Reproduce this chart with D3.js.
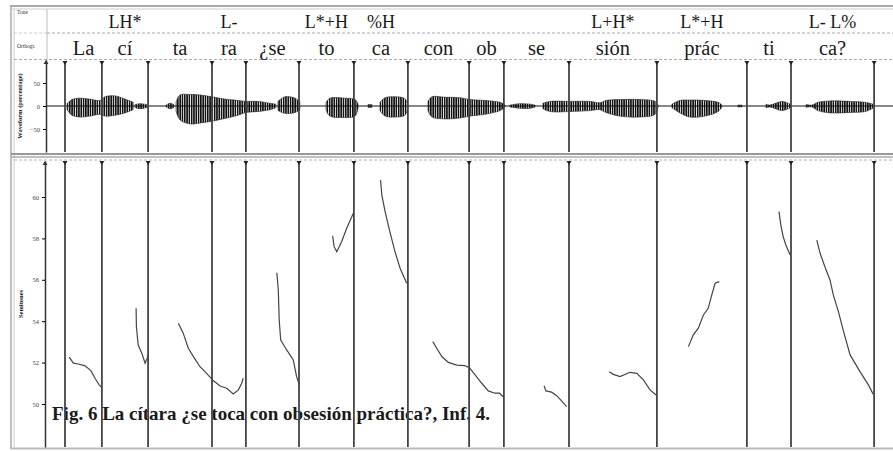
<!DOCTYPE html>
<html>
<head>
<meta charset="utf-8">
<script src="https://cdn.jsdelivr.net/npm/d3@7"></script>
<style>
body { margin: 0; background: #fff; }
svg { display: block; }
</style>
</head>
<body>
<svg id="chart" width="893" height="451"></svg>
<script>
// syllable tier + tone tier (one entry per interval)
var syllables = ['La', 'cí', 'ta', 'ra', '¿se', 'to', 'ca', 'con', 'ob', 'se', 'sión', 'prác', 'ti', 'ca?'];
var tones = ['', 'LH*', '', 'L-', '', 'L*+H', '%H', '', '', '', 'L+H*', 'L*+H', '', 'L- L%'];
// interval boundaries, seconds
var boundaries = [0.060, 0.183, 0.337, 0.550, 0.663, 0.840, 1.023, 1.203, 1.407, 1.523, 1.740, 2.033, 2.333, 2.480, 2.757];

var pitchTicks = [50, 52, 54, 56, 58, 60];
var waveTicks = [50, 0, -50];

// pitch contours: [time (s), semitones]
var pitchLa = [[0.074, 52.26], [0.088, 51.97], [0.104, 51.93], [0.127, 51.84], [0.146, 51.61], [0.160, 51.24], [0.174, 50.92], [0.183, 50.79]];
var pitchCi = [[0.297, 54.62], [0.298, 53.73], [0.304, 52.85], [0.316, 52.45], [0.327, 51.97], [0.334, 52.21], [0.338, 52.37]];
var pitchTaRa = [[0.438, 53.90], [0.454, 53.42], [0.471, 52.69], [0.488, 52.29], [0.510, 51.80], [0.532, 51.48], [0.554, 51.13], [0.577, 50.87], [0.599, 50.76], [0.621, 50.48], [0.638, 50.68], [0.649, 51.00], [0.654, 51.24]];
var pitchSe = [[0.766, 56.34], [0.771, 55.51], [0.774, 54.06], [0.779, 53.09], [0.799, 52.61], [0.821, 52.13], [0.832, 51.32], [0.841, 50.92]];
var pitchTo = [[0.952, 58.13], [0.957, 57.60], [0.966, 57.36], [0.982, 57.84], [0.999, 58.49], [1.016, 59.05], [1.021, 59.21]];
var pitchCa = [[1.112, 60.82], [1.116, 60.10], [1.127, 59.29], [1.143, 58.32], [1.160, 57.36], [1.177, 56.56], [1.199, 55.83]];
var pitchConOb = [[1.286, 53.01], [1.299, 52.69], [1.316, 52.29], [1.338, 52.01], [1.366, 51.88], [1.393, 51.85], [1.408, 51.75], [1.427, 51.40], [1.449, 51.00], [1.471, 50.63], [1.493, 50.52], [1.508, 50.52], [1.521, 50.35]];
var pitchSe2 = [[1.657, 50.88], [1.663, 50.63], [1.682, 50.57], [1.699, 50.40], [1.716, 50.14], [1.732, 49.87]];
var pitchSion = [[1.874, 51.56], [1.888, 51.43], [1.910, 51.32], [1.943, 51.53], [1.966, 51.48], [1.988, 51.16], [2.010, 50.68], [2.030, 50.43]];
var pitchPrac = [[2.138, 52.77], [2.154, 53.33], [2.171, 53.66], [2.188, 54.30], [2.204, 54.62], [2.216, 55.27], [2.227, 55.83], [2.241, 55.91]];
var pitchTi = [[2.440, 59.29], [2.446, 58.65], [2.454, 58.08], [2.463, 57.68], [2.477, 57.20]];
var pitchCa2 = [[2.566, 57.92], [2.577, 57.28], [2.593, 56.63], [2.610, 55.99], [2.621, 55.27], [2.638, 54.46], [2.654, 53.57], [2.677, 52.37], [2.710, 51.56], [2.738, 50.92], [2.754, 50.47]];

// waveform envelope chunks: [time (s), top %, bottom %]
var waveLaCi = [[0.067, 5, -8], [0.083, 14, -20], [0.110, 17, -24], [0.143, 15, -22], [0.177, 12, -18], [0.193, 20, -22], [0.227, 22, -20], [0.260, 15, -15], [0.287, 8, -8]];
var waveCiTail = [[0.293, 3, -3], [0.310, 5, -6], [0.333, 3, -3]];
var waveTaOnset = [[0.397, 2, -2], [0.410, 6, -6], [0.423, 3, -3]];
var waveTaRa = [[0.430, 8, -10], [0.443, 24, -30], [0.477, 25, -39], [0.510, 24, -37], [0.550, 20, -33], [0.593, 15, -27], [0.637, 12, -20], [0.663, 10, -14], [0.703, 10, -12], [0.743, 6, -8], [0.763, 4, -4]];
var waveSe = [[0.770, 10, -10], [0.793, 20, -16], [0.827, 17, -14], [0.843, 8, -8]];
var waveTo = [[0.930, 8, -8], [0.943, 17, -22], [0.993, 17, -25], [1.027, 14, -22], [1.037, 4, -4]];
var waveDot = [[1.070, 3, -3], [1.083, 3, -3]];
var waveCa = [[1.110, 8, -10], [1.127, 18, -22], [1.160, 20, -24], [1.193, 16, -20], [1.203, 3, -3]];
var waveConOb = [[1.270, 10, -10], [1.283, 20, -24], [1.327, 19, -28], [1.377, 18, -26], [1.410, 14, -22], [1.460, 12, -18], [1.510, 8, -10], [1.527, 2, -2]];
var waveSeOnset = [[1.543, 2, -2], [1.577, 5, -5], [1.610, 4, -5], [1.627, 2, -2]];
var waveSeSion = [[1.653, 6, -6], [1.677, 10, -12], [1.743, 10, -12], [1.810, 10, -10], [1.843, 7, -8], [1.863, 12, -14], [1.910, 14, -22], [1.977, 14, -24], [2.027, 10, -18], [2.037, 2, -2]];
var wavePrac = [[2.083, 4, -4], [2.110, 12, -15], [2.143, 13, -24], [2.193, 12, -22], [2.237, 8, -12], [2.250, 2, -2]];
var waveTiOnset = [[2.303, 2, -2], [2.317, 2, -2]];
var waveTi = [[2.397, 4, -4], [2.410, 2, -2], [2.437, 8, -8], [2.453, 10, -10], [2.477, 4, -4]];
var waveCa2 = [[2.530, 3, -3], [2.550, 2, -2], [2.570, 8, -10], [2.610, 11, -15], [2.677, 10, -14], [2.727, 8, -12], [2.753, 4, -5]];

var caption = 'Fig. 6 La cítara ¿se toca con obsesión práctica?, Inf. 4.';

var contours = [pitchLa, pitchCi, pitchTaRa, pitchSe, pitchTo, pitchCa, pitchConOb, pitchSe2, pitchSion, pitchPrac, pitchTi, pitchCa2];
var waveChunks = [waveLaCi, waveCiTail, waveTaOnset, waveTaRa, waveSe, waveTo, waveDot, waveCa, waveConOb, waveSeOnset, waveSeSion, wavePrac, waveTiOnset, waveTi, waveCa2];

var svg = d3.select('#chart');
var serif = '"Liberation Serif", "DejaVu Serif", serif';

var x = d3.scaleLinear().domain([0, 2.82]).range([47, 893]);
var yWave = d3.scaleLinear().domain([-100, 100]).range([152, 60]);
var yPitch = d3.scaleLinear().domain([47.92, 61.74]).range([447, 161]);

// stripes so the waveform looks like dense oscillation
var defs = svg.append('defs');
defs.append('pattern')
    .attr('id', 'osc')
    .attr('patternUnits', 'userSpaceOnUse')
    .attr('width', 2.3).attr('height', 10)
    .append('rect')
    .attr('width', 1.6).attr('height', 10)
    .attr('fill', '#111');

//frame
var frame = svg.append('g').attr('fill', 'none');
frame.append('line').attr('x1', 10).attr('x2', 893).attr('y1', 6).attr('y2', 6).attr('stroke', '#aaa').attr('stroke-width', 2);
frame.append('line').attr('x1', 10).attr('x2', 893).attr('y1', 9).attr('y2', 9).attr('stroke', '#ccc');
frame.append('line').attr('x1', 11).attr('x2', 11).attr('y1', 6).attr('y2', 449).attr('stroke', '#aaa').attr('stroke-width', 1.5);
frame.append('line').attr('x1', 14).attr('x2', 14).attr('y1', 9).attr('y2', 449).attr('stroke', '#ccc');
frame.append('line').attr('x1', 47).attr('x2', 47).attr('y1', 9).attr('y2', 60).attr('stroke', '#bbb');
frame.append('line').attr('x1', 47).attr('x2', 893).attr('y1', 33).attr('y2', 33).attr('stroke', '#aaa').attr('stroke-dasharray', '3,2');
frame.append('line').attr('x1', 14).attr('x2', 47).attr('y1', 33).attr('y2', 33).attr('stroke', '#ccc').attr('stroke-dasharray', '3,2');
frame.append('line').attr('x1', 14).attr('x2', 893).attr('y1', 59.5).attr('y2', 59.5).attr('stroke', '#aaa').attr('stroke-dasharray', '3,2');
frame.append('line').attr('x1', 11).attr('x2', 893).attr('y1', 154).attr('y2', 154).attr('stroke', '#999').attr('stroke-width', 2);
frame.append('line').attr('x1', 11).attr('x2', 893).attr('y1', 157).attr('y2', 157).attr('stroke', '#aaa').attr('stroke-width', 1.5);
frame.append('line').attr('x1', 14).attr('x2', 893).attr('y1', 160).attr('y2', 160).attr('stroke', '#caa').attr('stroke-dasharray', '3,2');
frame.append('line').attr('x1', 11).attr('x2', 893).attr('y1', 448.5).attr('y2', 448.5).attr('stroke', '#bbb').attr('stroke-width', 2);

// tier names
svg.append('text').attr('x', 17).attr('y', 14).attr('font-family', serif).attr('font-size', 5.5).attr('fill', '#333').text('Tone');
svg.append('text').attr('x', 17).attr('y', 48).attr('font-family', serif).attr('font-size', 5.5).attr('fill', '#333').text('Orthogr.');

var intervals = syllables.map(function(s, i) {
    return {syl: s, tone: tones[i], mid: (boundaries[i] + boundaries[i + 1]) / 2};
});

svg.append('g').selectAll('text')
    .data(intervals.filter(function(d) { return d.tone !== ''; }))
    .enter().append('text')
    .attr('x', function(d) { return x(d.mid); })
    .attr('y', 28)
    .attr('text-anchor', 'middle')
    .attr('font-family', serif)
    .attr('font-size', 18)
    .attr('fill', '#1a1a1a')
    .text(function(d) { return d.tone; });

svg.append('g').selectAll('text')
    .data(intervals)
    .enter().append('text')
    .attr('x', function(d) { return x(d.mid); })
    .attr('y', 55)
    .attr('text-anchor', 'middle')
    .attr('font-family', serif)
    .attr('font-size', 20.5)
    .attr('fill', '#1a1a1a')
    .text(function(d) { return d.syl; });

// waveform panel
svg.append('line')
    .attr('x1', 47).attr('x2', 893)
    .attr('y1', yWave(0)).attr('y2', yWave(0))
    .attr('stroke', '#111').attr('stroke-width', 1.2);

var waveArea = d3.area()
    .x(function(d) { return x(d[0]); })
    .y0(function(d) { return yWave(d[2]); })
    .y1(function(d) { return yWave(d[1]); })
    .curve(d3.curveCatmullRom);

svg.append('g').selectAll('path')
    .data(waveChunks)
    .enter().append('path')
    .attr('d', waveArea)
    .attr('fill', 'url(#osc)')
    .attr('stroke', '#222')
    .attr('stroke-width', 0.6);

var waveAxis = svg.append('g')
    .attr('transform', 'translate(46,0)')
    .call(d3.axisLeft(yWave).tickValues(waveTicks).tickSize(3).tickSizeOuter(0));
waveAxis.select('.domain').attr('stroke', '#333').attr('stroke-width', 1.5);
waveAxis.selectAll('text').attr('font-size', 6.5).attr('font-family', serif).attr('fill', '#444');

svg.append('text')
    .attr('transform', 'translate(22,' + yWave(0) + ') rotate(-90)')
    .attr('text-anchor', 'middle')
    .attr('font-family', serif).attr('font-weight', 'bold')
    .attr('font-size', 6.5).attr('fill', '#222')
    .text('Waveform (percentage)');

// pitch panel
var pitchAxis = svg.append('g')
    .attr('transform', 'translate(45,0)')
    .call(d3.axisLeft(yPitch).tickValues(pitchTicks).tickSize(3).tickSizeOuter(0));
pitchAxis.select('.domain').attr('stroke', '#333').attr('stroke-width', 1.5);
pitchAxis.selectAll('text').attr('font-size', 6.5).attr('font-family', serif).attr('fill', '#444');

svg.append('text')
    .attr('transform', 'translate(23,304) rotate(-90)')
    .attr('text-anchor', 'middle')
    .attr('font-family', serif).attr('font-weight', 'bold')
    .attr('font-size', 6.5).attr('fill', '#222')
    .text('Semitones');

// axis arrow heads
[[46, yWave.range()[1]], [45, yPitch.range()[1]]].forEach(function(p) {
    svg.append('path')
        .attr('d', 'M' + (p[0] - 2.5) + ',' + (p[1] + 4) + 'L' + p[0] + ',' + p[1] + 'L' + (p[0] + 2.5) + ',' + (p[1] + 4) + 'Z')
        .attr('fill', '#333');
});

svg.append('text')
    .attr('x', 52).attr('y', 420)
    .attr('font-family', serif).attr('font-weight', 'bold')
    .attr('font-size', 19).attr('fill', '#1a1a1a')
    .text(caption);

// boundaries in both panels
var panels = [[yWave.range()[1] + 1, yWave.range()[0]], [yPitch.range()[1], yPitch.range()[0]]];
panels.forEach(function(p) {
    var g = svg.append('g');
    g.selectAll('line')
        .data(boundaries)
        .enter().append('line')
        .attr('x1', function(d) { return x(d); })
        .attr('x2', function(d) { return x(d); })
        .attr('y1', p[0]).attr('y2', p[1])
        .attr('stroke', '#444').attr('stroke-width', 1.8);
    g.selectAll('path')
        .data(boundaries)
        .enter().append('path')
        .attr('d', function(d) {
            var bx = x(d);
            return 'M' + (bx - 2.5) + ',' + p[0] + 'L' + (bx + 2.5) + ',' + p[0] + 'L' + bx + ',' + (p[0] + 4) + 'Z';
        })
        .attr('fill', '#222');
});

var pitchLine = d3.line()
    .x(function(d) { return x(d[0]); })
    .y(function(d) { return yPitch(d[1]); });

svg.append('g').selectAll('path')
    .data(contours)
    .enter().append('path')
    .attr('d', pitchLine)
    .attr('fill', 'none')
    .attr('stroke', '#444')
    .attr('stroke-width', 1.2);
</script>
</body>
</html>
